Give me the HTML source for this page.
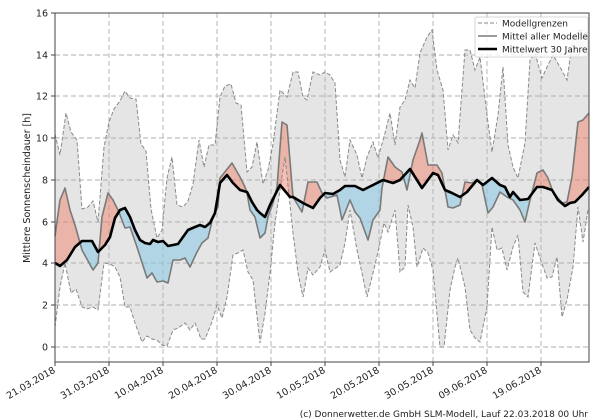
<!DOCTYPE html>
<html><head><meta charset="utf-8"><style>
html,body{margin:0;padding:0;background:#fff;}
svg{display:block;font-family:"DejaVu Sans","Liberation Sans",sans-serif;}
</style></head><body>
<svg width="600" height="420" viewBox="0 0 600 420" xmlns="http://www.w3.org/2000/svg">
<defs>
<clipPath id="plot"><rect x="55" y="13" width="534" height="349"/></clipPath>
<clipPath id="above"><polygon id="abovep" points="55,0 590,0 590,187 582,195 575,202 570,203 565,206 558,200 552,190 543,187 537,187 528,199 520,200 513,192 510,197 505,187 500,185 492,178 483,185 477,180 467,192 460,197 452,193 445,190 438,175 433,173 422,188 410,169 400,180 393,183 383,180 373,185 363,190 355,186 345,186 340,190 333,194 325,193 320,198 313,208 303,203 293,197 290,197 280,185 270,205 265,217 260,213 257,210 252,202 247,192 240,190 233,183 227,175 220,183 215,213 210,223 205,227 200,225 195,227 188,230 183,237 178,244 168,246 163,241 158,242 153,240 150,244 145,243 140,240 135,230 130,217 125,208 120,210 115,218 110,237 105,245 98,252 92,241 82,241 75,247 67,260 60,266 55,263"/></clipPath>
<clipPath id="below"><polygon points="55,420 590,420 590,187 582,195 575,202 570,203 565,206 558,200 552,190 543,187 537,187 528,199 520,200 513,192 510,197 505,187 500,185 492,178 483,185 477,180 467,192 460,197 452,193 445,190 438,175 433,173 422,188 410,169 400,180 393,183 383,180 373,185 363,190 355,186 345,186 340,190 333,194 325,193 320,198 313,208 303,203 293,197 290,197 280,185 270,205 265,217 260,213 257,210 252,202 247,192 240,190 233,183 227,175 220,183 215,213 210,223 205,227 200,225 195,227 188,230 183,237 178,244 168,246 163,241 158,242 153,240 150,244 145,243 140,240 135,230 130,217 125,208 120,210 115,218 110,237 105,245 98,252 92,241 82,241 75,247 67,260 60,266 55,263"/></clipPath>
</defs>

<!-- envelope -->
<g clip-path="url(#plot)">
<polygon fill="#e5e5e5" points="55,134 60,155 66,113 71,132 77,140 82,209 88,207 93,201 98,222 104,147 109,122 114,109 120,101 125,91 130,98 136,99 141,144 146,151 151,209 157,238 162,230 167,178 172,157 177,205 183,207 188,201 193,184 199,140 204,167 209,145 215,145 220,97 225,86 231,84 236,103 241,105 247,172 252,167 257,142 263,184 268,170 273,144 280,90 287,97 293,72 298,72 303,97 307,100 313,72 320,75 325,72 330,75 335,83 340,160 345,177 350,140 357,155 362,178 367,157 373,142 378,158 385,133 390,113 395,145 400,107 405,100 410,80 415,88 420,53 427,37 432,30 437,70 443,90 448,150 453,135 458,143 465,50 470,50 475,70 480,57 487,115 492,152 498,115 503,67 508,145 513,167 518,178 525,143 530,60 535,53 542,78 547,67 553,55 560,67 567,80 573,37 580,30 587,33 589,33 589,210 588,210 583,242 578,207 573,267 567,300 562,317 557,257 552,277 547,278 540,258 535,243 528,297 523,292 518,235 513,247 507,270 502,248 497,250 492,227 487,307 480,342 475,338 470,330 465,287 458,258 455,267 450,290 444,347 440,347 433,270 428,253 423,248 417,267 413,227 408,205 405,267 400,272 395,210 388,232 384,223 378,252 373,273 367,297 362,273 357,250 350,210 345,243 340,265 330,272 325,250 320,267 313,275 308,268 303,297 298,273 293,233 285,157 275,223 270,273 265,313 260,343 253,280 248,272 243,250 238,253 233,255 227,297 222,318 217,305 212,322 205,339 201,339 195,323 190,330 185,323 178,328 173,330 167,346 162,345 157,340 152,339 147,336 142,342 135,323 130,307 125,307 120,277 115,267 110,264 104,263 98,310 93,307 87,309 82,307 76,289 71,293 65,263 60,287 55,327"/>
</g>

<!-- grid -->
<g stroke="#b0b0b0" stroke-width="0.9" stroke-dasharray="5,3" fill="none">
<line x1="55" y1="55" x2="589" y2="55"/><line x1="55" y1="96" x2="589" y2="96"/>
<line x1="55" y1="138" x2="589" y2="138"/><line x1="55" y1="180" x2="589" y2="180"/>
<line x1="55" y1="222" x2="589" y2="222"/><line x1="55" y1="263" x2="589" y2="263"/>
<line x1="55" y1="305" x2="589" y2="305"/><line x1="55" y1="347" x2="589" y2="347"/>
<line x1="109" y1="13" x2="109" y2="362"/><line x1="163" y1="13" x2="163" y2="362"/>
<line x1="217" y1="13" x2="217" y2="362"/><line x1="271" y1="13" x2="271" y2="362"/>
<line x1="325" y1="13" x2="325" y2="362"/><line x1="379" y1="13" x2="379" y2="362"/>
<line x1="433" y1="13" x2="433" y2="362"/><line x1="487" y1="13" x2="487" y2="362"/>
<line x1="541" y1="13" x2="541" y2="362"/>
</g>

<!-- red/blue fills -->
<g id="fills">
<polygon fill="rgba(240,120,95,0.45)" clip-path="url(#above)" points="55,236 60,200 65,188 70,210 75,225 82,250 93,270 98,263 102,217 108,193 113,200 118,210 120,215 125,228 130,227 137,247 147,278 152,273 157,282 163,281 168,283 173,260 180,260 185,258 190,267 197,252 202,243 208,238 213,217 218,207 220,178 232,163 240,177 245,187 247,193 250,210 255,217 260,238 265,233 268,217 273,203 277,187 282,122 287,125 293,197 302,212 308,182 317,182 322,193 327,198 337,195 342,220 350,200 355,212 360,218 368,240 373,220 380,210 382,188 388,157 395,167 402,172 407,190 413,160 420,140 422,133 428,165 437,165 442,173 448,207 453,208 460,205 465,182 472,183 477,180 482,185 488,213 493,207 500,192 507,197 513,200 520,210 525,222 530,200 537,173 543,170 548,178 553,192 562,203 567,202 572,177 578,122 583,120 589,113 589,187 582,195 575,202 570,203 565,206 558,200 552,190 543,187 537,187 528,199 520,200 513,192 510,197 505,187 500,185 492,178 483,185 477,180 467,192 460,197 452,193 445,190 438,175 433,173 422,188 410,169 400,180 393,183 383,180 373,185 363,190 355,186 345,186 340,190 333,194 325,193 320,198 313,208 303,203 293,197 290,197 280,185 270,205 265,217 260,213 257,210 252,202 247,192 240,190 233,183 227,175 220,183 215,213 210,223 205,227 200,225 195,227 188,230 183,237 178,244 168,246 163,241 158,242 153,240 150,244 145,243 140,240 135,230 130,217 125,208 120,210 115,218 110,237 105,245 98,252 92,241 82,241 75,247 67,260 60,266 55,263"/>
<polygon fill="rgba(135,200,230,0.55)" clip-path="url(#below)" points="55,236 60,200 65,188 70,210 75,225 82,250 93,270 98,263 102,217 108,193 113,200 118,210 120,215 125,228 130,227 137,247 147,278 152,273 157,282 163,281 168,283 173,260 180,260 185,258 190,267 197,252 202,243 208,238 213,217 218,207 220,178 232,163 240,177 245,187 247,193 250,210 255,217 260,238 265,233 268,217 273,203 277,187 282,122 287,125 293,197 302,212 308,182 317,182 322,193 327,198 337,195 342,220 350,200 355,212 360,218 368,240 373,220 380,210 382,188 388,157 395,167 402,172 407,190 413,160 420,140 422,133 428,165 437,165 442,173 448,207 453,208 460,205 465,182 472,183 477,180 482,185 488,213 493,207 500,192 507,197 513,200 520,210 525,222 530,200 537,173 543,170 548,178 553,192 562,203 567,202 572,177 578,122 583,120 589,113 589,187 582,195 575,202 570,203 565,206 558,200 552,190 543,187 537,187 528,199 520,200 513,192 510,197 505,187 500,185 492,178 483,185 477,180 467,192 460,197 452,193 445,190 438,175 433,173 422,188 410,169 400,180 393,183 383,180 373,185 363,190 355,186 345,186 340,190 333,194 325,193 320,198 313,208 303,203 293,197 290,197 280,185 270,205 265,217 260,213 257,210 252,202 247,192 240,190 233,183 227,175 220,183 215,213 210,223 205,227 200,225 195,227 188,230 183,237 178,244 168,246 163,241 158,242 153,240 150,244 145,243 140,240 135,230 130,217 125,208 120,210 115,218 110,237 105,245 98,252 92,241 82,241 75,247 67,260 60,266 55,263"/>
</g>

<!-- bounds dashed -->
<g fill="none" stroke="#8a8a8a" stroke-width="1" stroke-dasharray="4,2" clip-path="url(#plot)">
<polyline points="55,134 60,155 66,113 71,132 77,140 82,209 88,207 93,201 98,222 104,147 109,122 114,109 120,101 125,91 130,98 136,99 141,144 146,151 151,209 157,238 162,230 167,178 172,157 177,205 183,207 188,201 193,184 199,140 204,167 209,145 215,145 220,97 225,86 231,84 236,103 241,105 247,172 252,167 257,142 263,184 268,170 273,144 280,90 287,97 293,72 298,72 303,97 307,100 313,72 320,75 325,72 330,75 335,83 340,160 345,177 350,140 357,155 362,178 367,157 373,142 378,158 385,133 390,113 395,145 400,107 405,100 410,80 415,88 420,53 427,37 432,30 437,70 443,90 448,150 453,135 458,143 465,50 470,50 475,70 480,57 487,115 492,152 498,115 503,67 508,145 513,167 518,178 525,143 530,60 535,53 542,78 547,67 553,55 560,67 567,80 573,37 580,30 587,33 589,33"/>
<polyline points="55,327 60,287 65,263 71,293 76,289 82,307 87,309 93,307 98,310 104,263 110,264 115,267 120,277 125,307 130,307 135,323 142,342 147,336 152,339 157,340 162,345 167,346 173,330 178,328 185,323 190,330 195,323 201,339 205,339 212,322 217,305 222,318 227,297 233,255 238,253 243,250 248,272 253,280 260,343 265,313 270,273 275,223 285,157 293,233 298,273 303,297 308,268 313,275 320,267 325,250 330,272 340,265 345,243 350,210 357,250 362,273 367,297 373,273 378,252 384,223 388,232 395,210 400,272 405,267 408,205 413,227 417,267 423,248 428,253 433,270 440,347 444,347 450,290 455,267 458,258 465,287 470,330 475,338 480,342 487,307 492,227 497,250 502,248 507,270 513,247 518,235 523,292 528,297 535,243 540,258 547,278 552,277 557,257 562,317 567,300 573,267 578,207 583,242 588,210 589,210"/>
</g>

<!-- model mean -->
<polyline fill="none" stroke="#7a7a7a" stroke-width="1.6" stroke-linejoin="round" points="55,236 60,200 65,188 70,210 75,225 82,250 93,270 98,263 102,217 108,193 113,200 118,210 120,215 125,228 130,227 137,247 147,278 152,273 157,282 163,281 168,283 173,260 180,260 185,258 190,267 197,252 202,243 208,238 213,217 218,207 220,178 232,163 240,177 245,187 247,193 250,210 255,217 260,238 265,233 268,217 273,203 277,187 282,122 287,125 293,197 302,212 308,182 317,182 322,193 327,198 337,195 342,220 350,200 355,212 360,218 368,240 373,220 380,210 382,188 388,157 395,167 402,172 407,190 413,160 420,140 422,133 428,165 437,165 442,173 448,207 453,208 460,205 465,182 472,183 477,180 482,185 488,213 493,207 500,192 507,197 513,200 520,210 525,222 530,200 537,173 543,170 548,178 553,192 562,203 567,202 572,177 578,122 583,120 589,113"/>

<!-- 30y mean -->
<polyline fill="none" stroke="#000" stroke-width="2.6" stroke-linejoin="round" points="55,263 60,266 67,260 75,247 82,241 92,241 98,252 105,245 110,237 115,218 120,210 125,208 130,217 135,230 140,240 145,243 150,244 153,240 158,242 163,241 168,246 178,244 183,237 188,230 195,227 200,225 205,227 210,223 215,213 220,183 227,175 233,183 240,190 247,192 252,202 257,210 260,213 265,217 270,205 280,185 290,197 293,197 303,203 313,208 320,198 325,193 333,194 340,190 345,186 355,186 363,190 373,185 383,180 393,183 400,180 410,169 422,188 433,173 438,175 445,190 452,193 460,197 467,192 477,180 483,185 492,178 500,185 505,187 510,197 513,192 520,200 528,199 537,187 543,187 552,190 558,200 565,206 570,203 575,202 582,195 589,187"/>

<!-- spines -->
<rect x="55" y="13" width="534" height="349" fill="none" stroke="#444" stroke-width="1"/>
<g stroke="#444" stroke-width="1">
<line x1="51" y1="13" x2="55" y2="13"/><line x1="51" y1="55" x2="55" y2="55"/><line x1="51" y1="96" x2="55" y2="96"/><line x1="51" y1="138" x2="55" y2="138"/><line x1="51" y1="180" x2="55" y2="180"/><line x1="51" y1="222" x2="55" y2="222"/><line x1="51" y1="263" x2="55" y2="263"/><line x1="51" y1="305" x2="55" y2="305"/><line x1="51" y1="347" x2="55" y2="347"/>
<line x1="55" y1="362" x2="55" y2="366"/><line x1="109" y1="362" x2="109" y2="366"/><line x1="163" y1="362" x2="163" y2="366"/><line x1="217" y1="362" x2="217" y2="366"/><line x1="271" y1="362" x2="271" y2="366"/><line x1="325" y1="362" x2="325" y2="366"/><line x1="379" y1="362" x2="379" y2="366"/><line x1="433" y1="362" x2="433" y2="366"/><line x1="487" y1="362" x2="487" y2="366"/><line x1="541" y1="362" x2="541" y2="366"/>
</g>

<!-- y labels -->
<g font-size="9.5" fill="#222" text-anchor="end">
<text x="48" y="16.5">16</text><text x="48" y="58.5">14</text><text x="48" y="99.5">12</text><text x="48" y="141.5">10</text><text x="48" y="183.5">8</text><text x="48" y="225.5">6</text><text x="48" y="266.5">4</text><text x="48" y="308.5">2</text><text x="48" y="350.5">0</text>
</g>
<text transform="translate(30,188) rotate(-90)" font-size="9.5" fill="#222" text-anchor="middle">Mittlere Sonnenscheindauer [h]</text>

<!-- x labels -->
<g font-size="9.5" fill="#222" text-anchor="end">
<text transform="translate(56,372) rotate(-30)">21.03.2018</text>
<text transform="translate(110,372) rotate(-30)">31.03.2018</text>
<text transform="translate(164,372) rotate(-30)">10.04.2018</text>
<text transform="translate(218,372) rotate(-30)">20.04.2018</text>
<text transform="translate(272,372) rotate(-30)">30.04.2018</text>
<text transform="translate(326,372) rotate(-30)">10.05.2018</text>
<text transform="translate(380,372) rotate(-30)">20.05.2018</text>
<text transform="translate(434,372) rotate(-30)">30.05.2018</text>
<text transform="translate(488,372) rotate(-30)">09.06.2018</text>
<text transform="translate(542,372) rotate(-30)">19.06.2018</text>
</g>

<!-- legend -->
<rect x="475" y="17" width="113" height="40" rx="2" fill="rgba(255,255,255,0.8)" stroke="#ccc" stroke-width="0.8"/>
<line x1="478" y1="23" x2="497" y2="23" stroke="#8a8a8a" stroke-width="1" stroke-dasharray="4,2"/>
<line x1="478" y1="36" x2="497" y2="36" stroke="#7a7a7a" stroke-width="1.6"/>
<line x1="478" y1="49" x2="497" y2="49" stroke="#000" stroke-width="2.6"/>
<g font-size="9" fill="#222">
<text x="502" y="26.5">Modellgrenzen</text>
<text x="502" y="39.5">Mittel aller Modelle</text>
<text x="502" y="52.5">Mittelwert 30 Jahre</text>
</g>

<text x="588" y="417" font-size="9" fill="#222" text-anchor="end">(c) Donnerwetter.de GmbH SLM-Modell, Lauf 22.03.2018 00 Uhr</text>
</svg>
</body></html>
